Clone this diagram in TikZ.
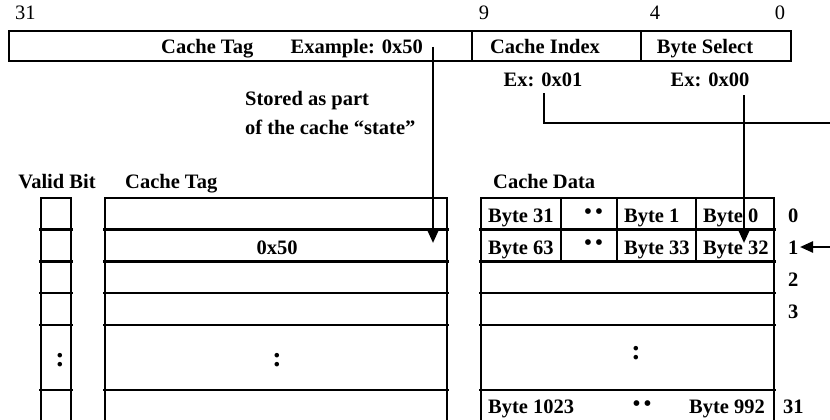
\documentclass[tikz,border=0pt]{standalone}
\usepackage{fontspec}
\setmainfont{Liberation Serif}
\usetikzlibrary{arrows.meta}

\begin{document}
\begin{tikzpicture}[x=1pt,y=-1pt,
  lbl/.style={font=\fontsize{20.5}{24}\selectfont\bfseries, inner sep=0pt},
  num/.style={font=\fontsize{20.5}{24}\selectfont, inner sep=0pt},
  dots/.style={font=\fontsize{28}{30}\selectfont\bfseries, inner sep=0pt, anchor=base},
  bul/.style={font=\fontsize{24}{26}\selectfont, inner sep=0pt},
  frame/.style={line width=2.6pt},
  rowline/.style={line width=2.3pt},
  cellline/.style={line width=1.8pt},
  wire/.style={line width=2.4pt},
  tip/.style={-{Triangle[length=13pt,width=11pt]}}
]
\useasboundingbox (0,0) rectangle (830,420);

% ---- address fields ----
\node[num, anchor=base west] (b31) at (15,20) {31};
\node[num, anchor=base] (b9) at (484,20) {9};
\node[num, anchor=base] (b4) at (655,20) {4};
\node[num, anchor=base] (b0) at (780,20) {0};

\draw[frame] (9,31) rectangle (791,61);
\draw[frame] (472,31) -- (472,61);
\draw[frame] (641,31) -- (641,61);

\node[lbl, anchor=base west] (ftag) at (161,54) {Cache Tag};
\node[lbl, anchor=base east] (fex) at (423,54) {Example: 0x50};
\node[lbl, anchor=base] (fidx) at (545,54) {Cache Index};
\node[lbl, anchor=base] (fsel) at (705,54) {Byte Select};
\node[lbl, anchor=base] (exidx) at (543,87) {Ex: 0x01};
\node[lbl, anchor=base] (exsel) at (710,87) {Ex: 0x00};

\node[lbl, anchor=base west] (note1) at (245,105) {Stored as part};
\node[lbl, anchor=base west] (note2) at (245,134) {of the cache “state”};

% ---- array headings ----
\node[lbl, anchor=base] (hvalid) at (57,188) {Valid Bit};
\node[lbl, anchor=base west] (htag) at (125,188) {Cache Tag};
\node[lbl, anchor=base west] (hdata) at (493,188) {Cache Data};

% ---- the three arrays ----
\foreach \xa/\xb in {41/71, 105/447, 481/774} {
  \draw[frame] (\xa,424) -- (\xa,198) -- (\xb,198) -- (\xb,424);
  \foreach \yy in {229.5, 261.5, 293, 325, 390}
    \draw[rowline] (\xa-2,\yy) -- (\xb+2,\yy);
}
% byte columns of the first two data lines
\foreach \xx in {561, 617, 696}
  \draw[cellline] (\xx,198) -- (\xx,261.5);

% ---- array contents ----
\node[lbl, anchor=base] (tag1) at (277,254) {0x50};
\node[dots] (vdots) at (60,366) {:};
\node[dots] (tdots) at (277,366) {:};
\node[dots] (ddots) at (636,359) {:};

\node[lbl, anchor=base west] (d0a) at (488,222) {Byte 31};
\node[bul] (d0b) at (593.5,214.5) {•\hspace{2.6pt}•};
\node[lbl, anchor=base west] (d0c) at (624,222) {Byte 1};
\node[lbl, anchor=base west] (d0d) at (703,222) {Byte 0};

\node[lbl, anchor=base west] (d1a) at (488,254) {Byte 63};
\node[bul] (d1b) at (593.5,245.5) {•\hspace{2.6pt}•};
\node[lbl, anchor=base west] (d1c) at (624,254) {Byte 33};
\node[lbl, anchor=base west] (d1d) at (703,254) {Byte 32};

\node[lbl, anchor=base west] (d31a) at (488,413) {Byte 1023};
\node[bul] (d31b) at (642,406.5) {•\hspace{2.6pt}•};
\node[lbl, anchor=base east] (d31c) at (765,413) {Byte 992};

% ---- line numbers ----
\node[lbl, anchor=base west] (r0) at (788,222) {0};
\node[lbl, anchor=base west] (r1) at (788,254) {1};
\node[lbl, anchor=base west] (r2) at (788,286) {2};
\node[lbl, anchor=base west] (r3) at (788,318) {3};
\node[lbl, anchor=base west] (r31) at (783,413) {31};

% ---- connectors ----
\coordinate (tagtap) at (433,47);
\coordinate (tagrow) at (433,243);
\draw[wire, tip] (tagtap) -- (tagrow);

\coordinate (idxtap) at (544,93);
\coordinate (idxbend) at (544,123);
\coordinate (idxout) at (832,123);
\draw[wire] (idxtap) -- (idxbend) -- (idxout);

\coordinate (rowin) at (832,247);
\coordinate (rowtip) at (800,247);
\draw[wire, tip] (rowin) -- (rowtip);

\coordinate (seltap) at (744,95);
\coordinate (selrow) at (744,243);
\draw[wire, tip] (seltap) -- (selrow);
\end{tikzpicture}
\end{document}
